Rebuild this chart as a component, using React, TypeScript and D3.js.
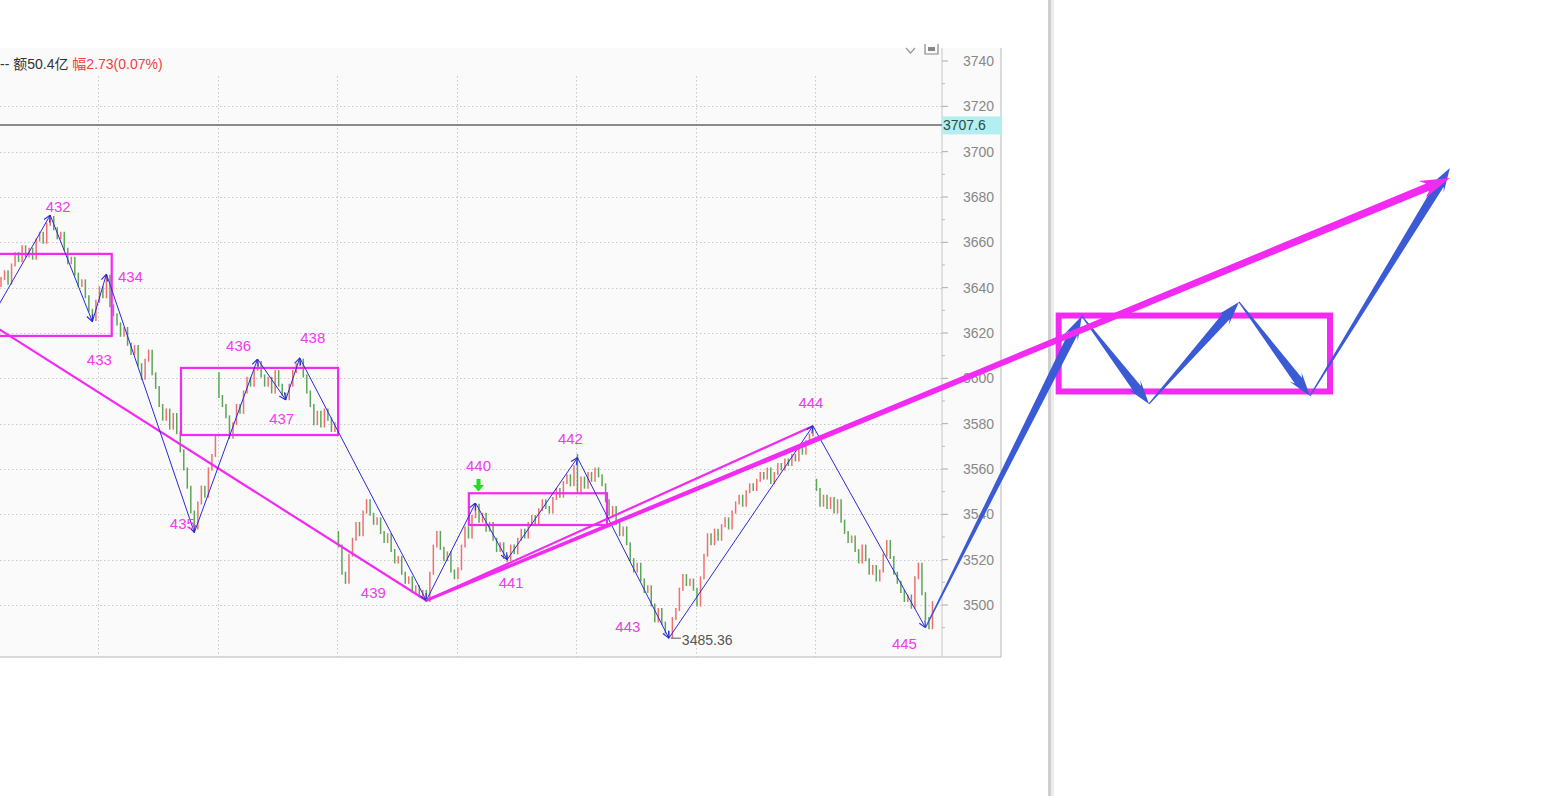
import React from 'react';
import * as d3 from 'd3';

// ---------- data ----------
const closes: number[] = [
  // day A (0-27)
  3644, 3647, 3642, 3650, 3655, 3652, 3658, 3654, 3657, 3653, 3661, 3664, 3660, 3668,
  3671, 3666, 3662, 3664, 3657, 3651, 3653, 3646, 3641, 3643, 3636, 3630, 3626, 3634,
  // day B (28-61)
  3640, 3636, 3645, 3632, 3628, 3624, 3619, 3622, 3615, 3611, 3614, 3606, 3600, 3608,
  3612, 3602, 3596, 3588, 3582, 3586, 3578, 3584, 3576, 3568, 3560, 3552, 3541, 3534,
  3545, 3552, 3548, 3560, 3566, 3574,
  // day C (62-95)
  3592, 3588, 3583, 3574, 3580, 3588, 3585, 3594, 3600, 3597, 3604, 3607, 3601, 3597,
  3600, 3594, 3603, 3597, 3593, 3591, 3597, 3603, 3606, 3608, 3601, 3594, 3588, 3580,
  3585, 3579, 3586, 3582, 3577, 3580,
  // day D (96-129)
  3526, 3514, 3510, 3522, 3529, 3536, 3531, 3541, 3546, 3540, 3536, 3538, 3532, 3528,
  3531, 3524, 3519, 3521, 3514, 3510, 3512, 3506, 3508, 3504, 3506, 3502, 3514, 3526,
  3532, 3525, 3520, 3523, 3515, 3512,
  // day E (130-163)
  3516, 3526, 3534, 3530, 3539, 3544, 3537, 3540, 3533, 3536, 3529, 3524, 3527, 3521,
  3520, 3526, 3523, 3529, 3533, 3530, 3536, 3539, 3536, 3542, 3546, 3543, 3541, 3547,
  3551, 3548, 3554, 3557, 3553, 3561,
  // day F (164-197)
  3550, 3556, 3552, 3558, 3555, 3560, 3557, 3553, 3546, 3540, 3543, 3536, 3531, 3534,
  3527, 3520, 3515, 3518, 3511, 3506, 3508, 3500, 3493, 3498, 3492, 3488, 3486, 3494,
  3498, 3507, 3513, 3509, 3511, 3507,
  // day G (198-231)
  3500, 3512, 3522, 3531, 3527, 3533, 3529, 3535, 3538, 3534, 3541, 3545, 3548, 3544,
  3550, 3553, 3551, 3555, 3558, 3556, 3560, 3554, 3558, 3562, 3560, 3564, 3562, 3566,
  3564, 3569, 3567, 3572, 3575, 3578,
  // day H (232-265)
  3551, 3544, 3548, 3543, 3547, 3541, 3546, 3537, 3532, 3528, 3530, 3524, 3519, 3526,
  3520, 3514, 3517, 3511, 3515, 3522, 3528, 3521, 3514, 3510, 3506, 3502, 3504, 3499,
  3512, 3518, 3505, 3494, 3490, 3501,
];
const firstOpen = 3641;
const gapIdx = [62, 96, 164, 232];
const gapOpen = [3602, 3532, 3566, 3555];
const sessionStarts = [28, 62, 96, 130, 164, 198, 232];

const pivotIdx = [-10, 14, 26, 30, 55, 73, 81, 85, 121, 135, 144, 164, 190, 231, 263];
const pivotVal = [3607, 3672, 3625, 3646, 3532, 3608.5, 3590.5, 3609, 3502, 3545, 3520, 3565, 3485.36, 3579, 3490];
const pivotLabels = ['', '432', '433', '434', '435', '436', '437', '438', '439', '440', '441', '442', '443', '444', '445'];

const projIdx = [263, 307.5, 326.6, 352.2, 372.4, 412.2];
const projVal = [3490, 3627.5, 3588.7, 3633.7, 3592.2, 3692.8];

const boxIdx0 = [-3, 51.2, 133.1, 300.9];
const boxIdx1 = [31.5, 95.9, 172.4, 378.1];
const boxHi = [3654.9, 3604.6, 3549.3, 3627.7];
const boxLo = [3618.7, 3575.0, 3535.3, 3594.2];

const trend1Idx = [-8, 121];
const trend1Val = [3629, 3502];
const trend2Idx = [121, 231];
const trend2Val = [3502, 3579];
const trend3Idx = [121, 412.2];
const trend3Val = [3502, 3688.4];

const yTicks = [3500, 3520, 3540, 3560, 3580, 3600, 3620, 3640, 3660, 3680, 3700, 3720, 3740];
const refValue = 3711.8;
const refLabel = '3707.6';
const lowLabel = '3485.36';
const headerGray = '-- 额50.4亿 ';
const headerRed = '幅2.73(0.07%)';

// ---------- layout ----------
const W = 1547, H = 796;
const PLOT_R = 942, PANEL_R = 1001, PANEL_T = 48, PANEL_B = 657;
const labelDx = [0, 8, 7, 24, -12, -19, -4, 13, -53, 3, 4, -7, -41, -2, -21];
const labelDy = [0, -9, 38, 2, -9, -14, 19, -20, -8, -38, 23, -19, -12, -23, 16];

const x = d3.scaleLinear().domain([0, 266]).range([1, 1 + 266 * 3.515]);
const y = d3.scaleLinear().domain([3500, 3740]).range([605, 61]);

const MAG = '#f22af2';
const BLUE = '#2a2ad8';
const PBLUE = '#3b5bd6';

function taper(x0: number, y0: number, x1: number, y1: number, w0: number, w1: number, hl: number, hw: number) {
  const dx = x1 - x0, dy = y1 - y0;
  const L = Math.hypot(dx, dy);
  const ux = dx / L, uy = dy / L;
  const nx = -uy, ny = ux;
  const bx = x1 - ux * hl, by = y1 - uy * hl;
  const nbx = x1 - ux * hl * 0.8, nby = y1 - uy * hl * 0.8;
  const pts: [number, number][] = [
    [x0 + nx * w0 / 2, y0 + ny * w0 / 2],
    [nbx + nx * w1 / 2, nby + ny * w1 / 2],
    [bx + nx * hw / 2, by + ny * hw / 2],
    [x1, y1],
    [bx - nx * hw / 2, by - ny * hw / 2],
    [nbx - nx * w1 / 2, nby - ny * w1 / 2],
    [x0 - nx * w0 / 2, y0 - ny * w0 / 2],
  ];
  return 'M' + pts.map(p => p[0].toFixed(2) + ',' + p[1].toFixed(2)).join('L') + 'Z';
}

export default function App() {
  const bars = closes.map((c, i) => {
    const g = gapIdx.indexOf(i);
    const o = i === 0 ? firstOpen : g >= 0 ? gapOpen[g] : closes[i - 1];
    const up = c >= o;
    let y0 = y(Math.max(o, c)), y1 = y(Math.min(o, c));
    if (y1 - y0 < 4) { const m = (y0 + y1) / 2; y0 = m - 2; y1 = m + 2; }
    return { x: x(i), y0, y1, up };
  });
  const minor = d3.range(3490, 3740, 20);
  const zz = pivotIdx.slice(1).map((_, k) => ({
    x0: x(pivotIdx[k]), y0: y(pivotVal[k]), x1: x(pivotIdx[k + 1]), y1: y(pivotVal[k + 1]),
  }));
  const p440 = pivotIdx.indexOf(135);
  const gx = x(pivotIdx[p440]) + 3, gy = y(pivotVal[p440]);
  const p443 = pivotIdx.indexOf(190);
  const lx = x(pivotIdx[p443]), ly = y(pivotVal[p443]);

  return (
    <svg width={W} height={H} style={{ position: 'absolute', left: 0, top: 0, background: '#fff' }}
      fontFamily="'Liberation Sans', Arial, 'Noto Sans CJK SC', sans-serif">
      <defs>
        <clipPath id="plot"><rect x={0} y={PANEL_T} width={PLOT_R} height={PANEL_B - PANEL_T} /></clipPath>
        <marker id="ah" viewBox="0 0 10 10" refX={9.5} refY={5} markerWidth={8} markerHeight={8}
          markerUnits="userSpaceOnUse" orient="auto">
          <path d="M1,1 L9.5,5 L1,9" fill="none" stroke={BLUE} strokeWidth={1.4} />
        </marker>
      </defs>
      <rect x={0} y={0} width={W} height={H} fill="#fff" />
      {/* panel */}
      <rect x={0} y={PANEL_T} width={PANEL_R} height={PANEL_B - PANEL_T} fill="#fafafa" />
      <line x1={0} y1={PANEL_B} x2={PANEL_R} y2={PANEL_B} stroke="#b8b8b8" />
      <line x1={PANEL_R} y1={PANEL_T} x2={PANEL_R} y2={PANEL_B} stroke="#b8b8b8" />
      <line x1={PLOT_R} y1={PANEL_T} x2={PLOT_R} y2={PANEL_B} stroke="#c8c8c8" />
      {/* separator */}
      <rect x={1048} y={0} width={3} height={H} fill="#cfcfcf" />
      <rect x={1051} y={0} width={3} height={H} fill="#ececec" />

      <g clipPath="url(#plot)">
        {yTicks.filter(t => t < 3740).map(t => (
          <line key={'h' + t} x1={0} x2={PLOT_R} y1={Math.round(y(t)) + 0.5} y2={Math.round(y(t)) + 0.5}
            stroke="#c9c9c9" strokeDasharray="1.5,2.5" />
        ))}
        {sessionStarts.map(s => (
          <line key={'v' + s} x1={Math.round(x(s - 0.3)) + 0.5} x2={Math.round(x(s - 0.3)) + 0.5} y1={76} y2={PANEL_B}
            stroke="#c9c9c9" strokeDasharray="1.5,2.5" />
        ))}
        <line x1={0} x2={PLOT_R} y1={y(refValue)} y2={y(refValue)} stroke="#666" strokeWidth={1.5} />
        {bars.map((b, i) => (
          <line key={'b' + i} x1={b.x} x2={b.x} y1={b.y0 - 1.5} y2={b.y1 + 1.5}
            stroke={b.up ? '#f07070' : '#5da656'} strokeWidth={1.5} />
        ))}
        {boxIdx0.slice(0, 3).map((_, k) => (
          <rect key={'bx' + k} x={x(boxIdx0[k])} y={y(boxHi[k])} width={x(boxIdx1[k]) - x(boxIdx0[k])}
            height={y(boxLo[k]) - y(boxHi[k])} fill="none" stroke={MAG} strokeWidth={2.2} />
        ))}
        <line x1={x(trend1Idx[0])} y1={y(trend1Val[0])} x2={x(trend1Idx[1])} y2={y(trend1Val[1])}
          stroke={MAG} strokeWidth={2.2} />
        <line x1={x(trend2Idx[0])} y1={y(trend2Val[0])} x2={x(trend2Idx[1])} y2={y(trend2Val[1])}
          stroke={MAG} strokeWidth={2.2} />
        {zz.map((s, k) => (
          <line key={'z' + k} x1={s.x0} y1={s.y0} x2={s.x1} y2={s.y1} stroke={BLUE} strokeWidth={1}
            markerEnd="url(#ah)" />
        ))}
        {pivotLabels.map((l, k) => l ? (
          <text key={'l' + k} x={x(pivotIdx[k]) + labelDx[k]} y={y(pivotVal[k]) + labelDy[k] + 5.5}
            textAnchor="middle" fontSize={15} fill="#ee3cee">{l}</text>
        ) : null)}
        {/* green arrow */}
        <path d={`M${gx - 2},${gy - 24} h4 v6 h3.5 l-5.5,6.5 l-5.5,-6.5 h3.5 Z`} fill="#22dd22" />
        {/* low label */}
        <line x1={lx + 2} x2={lx + 12} y1={ly} y2={ly} stroke="#555" />
        <text x={lx + 13} y={ly + 7} fontSize={14} fill="#555">{lowLabel}</text>
      </g>

      {/* axis */}
      {yTicks.map(t => (
        <g key={'t' + t}>
          <line x1={PLOT_R} x2={PLOT_R + 6} y1={y(t)} y2={y(t)} stroke="#aaa" />
          <text x={963} y={y(t) + 5} fontSize={14} fill="#888">{t}</text>
        </g>
      ))}
      {minor.map(t => (
        <line key={'m' + t} x1={PLOT_R} x2={PLOT_R + 3} y1={y(t)} y2={y(t)} stroke="#bbb" />
      ))}
      <rect x={PLOT_R} y={y(refValue) - 8.5} width={PANEL_R - PLOT_R} height={18} fill="#b3eef0" />
      <text x={PLOT_R + 1} y={y(refValue) + 5} fontSize={14} fill="#2a4a4a">{refLabel}</text>

      {/* header */}
      <text x={0} y={69} fontSize={14}>
        <tspan fill="#333">{headerGray}</tspan>
        <tspan fill="#f04040">{headerRed}</tspan>
      </text>
      {/* icons */}
      <path d="M906,48 L910.5,53 L915,48" fill="none" stroke="#999" strokeWidth={1.2} />
      <path d="M925,44 V54 H938 V44" fill="none" stroke="#888" strokeWidth={1.2} />
      <rect x={928} y={47} width={7} height={4} fill="#888" />

      {/* projection */}
      <rect x={x(boxIdx0[3])} y={y(boxHi[3])} width={x(boxIdx1[3]) - x(boxIdx0[3])}
        height={y(boxLo[3]) - y(boxHi[3])} fill="none" stroke={MAG} strokeWidth={6} />
      {projIdx.slice(1).map((_, k) => (
        <path key={'p' + k}
          d={taper(x(projIdx[k]), y(projVal[k]), x(projIdx[k + 1]), y(projVal[k + 1]), 1.2, 9, 24, 15)}
          fill={PBLUE} />
      ))}
      <path d={taper(x(trend3Idx[0]), y(trend3Val[0]), x(trend3Idx[1]), y(trend3Val[1]), 3, 8, 30, 18)}
        fill={MAG} />
    </svg>
  );
}
